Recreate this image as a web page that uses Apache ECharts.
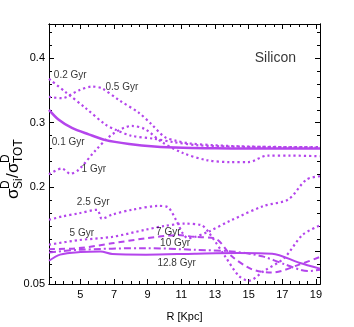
<!DOCTYPE html>
<html>
<head>
<meta charset="utf-8">
<script src="https://cdn.jsdelivr.net/npm/echarts/dist/echarts.min.js"></script>
<style>
html,body{margin:0;padding:0;background:#fff;}
#main{width:354px;height:327px;}
</style>
</head>
<body>
<div id="main"></div>
<script>
// [R in Kpc, sigma ratio]
var gyr01 = [[3.14,0.320],[3.7,0.305],[4.5,0.292],[5.5,0.282],[6.5,0.273],[7.9,0.267],[9.4,0.263],[11.1,0.261],[13,0.2605],[15,0.260],[17,0.260],[19.24,0.260]];
var gyr02 = [[3.14,0.368],[4.1,0.348],[5.3,0.323],[6.5,0.297],[7.1,0.289],[8.0,0.280],[9.4,0.275],[10.5,0.270],[12,0.265],[14,0.263],[16,0.2625],[19.24,0.262]];
var gyr05 = [[3.14,0.340],[3.9,0.338],[4.9,0.350],[5.7,0.356],[6.3,0.353],[7.3,0.335],[8.5,0.315],[9.25,0.297],[10.0,0.278],[10.7,0.272],[11.5,0.268],[13,0.265],[15,0.263],[17,0.262],[19.24,0.2615]];
var gyr1 = [[3.14,0.220],[3.9,0.229],[4.4,0.221],[4.9,0.227],[5.9,0.257],[6.9,0.282],[8.06,0.295],[8.85,0.290],[9.84,0.270],[11.1,0.253],[12.5,0.242],[13.9,0.239],[15.0,0.239],[16.1,0.249],[17.5,0.249],[19.24,0.248]];
var gyr25 = [[3.14,0.1495],[3.9,0.1545],[4.9,0.1595],[6.0,0.165],[6.28,0.151],[6.88,0.1575],[8.06,0.165],[9.64,0.171],[10.2,0.169],[10.7,0.1485],[11.1,0.128],[11.4,0.121],[12.6,0.131],[13.9,0.148],[15.9,0.171],[17.35,0.181],[18.44,0.212],[19.24,0.217]];
var gyr5 = [[3.14,0.111],[4.9,0.118],[6.88,0.123],[8.85,0.134],[10.0,0.140],[11.2,0.1435],[12.2,0.141],[12.6,0.131],[13.6,0.093],[14.4,0.063],[15.0,0.055],[15.9,0.070],[17.1,0.090],[18.2,0.126],[19.24,0.141]];
var gyr7 = [[3.14,0.104],[4.9,0.1056],[6.88,0.113],[8.85,0.1207],[10.8,0.1258],[11.8,0.123],[13.0,0.1207],[14.0,0.093],[15.2,0.0727],[16.4,0.0677],[18.0,0.080],[19.24,0.092]];
var gyr10 = [[3.14,0.099],[4.9,0.103],[8.85,0.1056],[11.8,0.103],[14.0,0.1005],[15.8,0.093],[17.2,0.080],[18.5,0.070],[19.24,0.072]];
var gyr128 = [[3.14,0.086],[3.8,0.0955],[5.0,0.0995],[6.2,0.1005],[6.9,0.0965],[8.9,0.0955],[11.8,0.097],[14.4,0.098],[16.4,0.097],[18.0,0.083],[19.24,0.0738]];

var xLabels = [5,7,9,11,13,15,17,19];
var xMinor = [];
for (var i = 3.5; i <= 19.01; i += 0.5) xMinor.push(i);
var yLabels = [0.05,0.2,0.3,0.4];
var yMajor = [0.1,0.2,0.3,0.4];
var yMinor = [0.06,0.08,0.12,0.14,0.16,0.18,0.22,0.24,0.26,0.28,0.32,0.34,0.36,0.38,0.42,0.44];

// curve labels: [R, value, text]
var curveLabels = [[4.4,0.374,'0.2 Gyr'],[7.47,0.3545,'0.5 Gyr'],[4.28,0.2697,'0.1 Gyr'],[5.8,0.2277,'1 Gyr'],
  [5.77,0.176,'2.5 Gyr'],[5.09,0.129,'5 Gyr'],[10.23,0.1308,'7 Gyr'],[10.63,0.1132,'10 Gyr'],[10.72,0.0818,'12.8 Gyr']];

var purple = '#b445ec';
var font = "'Liberation Sans', Arial, sans-serif";
var dotted = [2.2,3];

var myChart = echarts.init(document.getElementById('main'));

function xAx(pos, ticks, len, showLabel) {
	return {
		type: 'value', position: pos, min: 3.14, max: 19.24,
		axisLine: {show: true, lineStyle: {color: '#000', width: 1}},
		splitLine: {show: false},
		axisTick: {show: true, inside: true, length: len, customValues: ticks, lineStyle: {color: '#000'}},
		axisLabel: {show: showLabel, customValues: xLabels, color: '#000', fontSize: 11, fontFamily: font, margin: 5}
	};
}
function yAx(pos, ticks, len, showLabel) {
	return {
		type: 'value', position: pos, min: 0.05, max: 0.453,
		axisLine: {show: true, lineStyle: {color: '#000', width: 1}},
		splitLine: {show: false},
		axisTick: {show: true, inside: true, length: len, customValues: ticks, lineStyle: {color: '#000'}},
		axisLabel: {show: showLabel, customValues: yLabels, color: '#000', fontSize: 11, fontFamily: font, margin: 4,
			formatter: function (v) { return String(v); }}
	};
}

function line(name, data, type, width) {
	return {
		name: name, type: 'line', data: data, showSymbol: false, smooth: 0.3,
		lineStyle: {color: purple, width: width, type: type, cap: 'butt'},
		z: 3
	};
}

var xa = xAx('bottom', xLabels, 5, true);
xa.name = 'R [Kpc]';
xa.nameLocation = 'middle';
xa.nameGap = 27;
xa.nameTextStyle = {color: '#000', fontSize: 11, fontFamily: font};

option = {
	animation: false,
	grid: {left: 49, right: 34, top: 24, bottom: 37},
	xAxis: [xa, xAx('bottom', xMinor, 3, false), xAx('top', xLabels, 5, false), xAx('top', xMinor, 3, false)],
	yAxis: [yAx('left', yMajor, 5, true), yAx('left', yMinor, 3, false), yAx('right', yMajor, 5, false), yAx('right', yMinor, 3, false)],
	series: [
		line('0.1 Gyr', gyr01, 'solid', 2.5),
		line('0.2 Gyr', gyr02, dotted, 2.2),
		line('0.5 Gyr', gyr05, dotted, 2.2),
		line('1 Gyr', gyr1, dotted, 2.2),
		line('2.5 Gyr', gyr25, dotted, 2.2),
		line('5 Gyr', gyr5, dotted, 2.2),
		line('7 Gyr', gyr7, [6,4], 2),
		line('10 Gyr', gyr10, [7,3,2,3], 2),
		line('12.8 Gyr', gyr128, 'solid', 2),
		{
			type: 'scatter', symbolSize: 0, z: 5,
			data: curveLabels.map(function (d) { return {value: [d[0], d[1]], name: d[2]}; }),
			label: {show: true, position: 'inside', formatter: '{b}', color: '#000', fontSize: 10, fontFamily: font}
		},
		{
			type: 'scatter', symbolSize: 0, z: 5,
			data: [{value: [16.59, 0.40], name: 'Silicon'}],
			label: {show: true, position: 'inside', formatter: '{b}', color: '#000', fontSize: 14, fontFamily: font}
		}
	],
	graphic: [{
		type: 'group', x: 13, y: 199, rotation: Math.PI / 2,
		children: [
			{type: 'text', x: 0, y: 0, style: {text: 'σ', font: '17px ' + font, fill: '#000', verticalAlign: 'middle'}},
			{type: 'text', x: 10, y: -7, style: {text: 'D', font: '12px ' + font, fill: '#000', verticalAlign: 'middle'}},
			{type: 'text', x: 10, y: 6, style: {text: 'Si', font: '12px ' + font, fill: '#000', verticalAlign: 'middle'}},
			{type: 'text', x: 21, y: 0, style: {text: '/', font: '17px ' + font, fill: '#000', verticalAlign: 'middle'}},
			{type: 'text', x: 26, y: 0, style: {text: 'σ', font: '17px ' + font, fill: '#000', verticalAlign: 'middle'}},
			{type: 'text', x: 36, y: -7, style: {text: 'D', font: '12px ' + font, fill: '#000', verticalAlign: 'middle'}},
			{type: 'text', x: 36, y: 6, style: {text: 'TOT', font: '12px ' + font, fill: '#000', verticalAlign: 'middle'}}
		]
	}]
};
myChart.setOption(option, true);
</script>
</body>
</html>
